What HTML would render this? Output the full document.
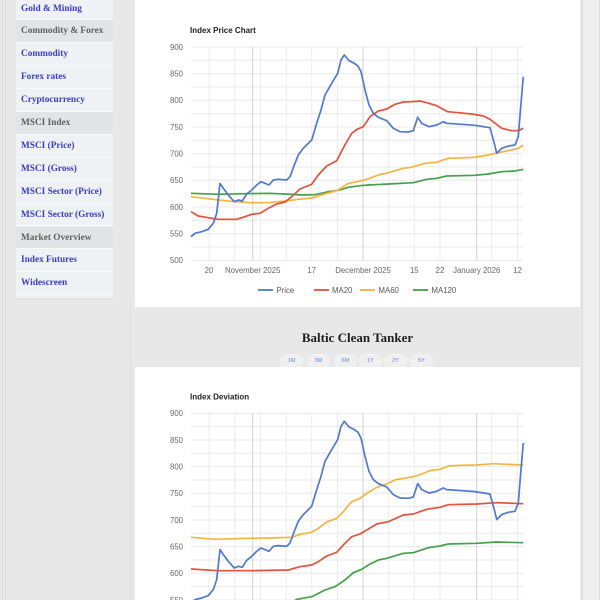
<!DOCTYPE html>
<html><head><meta charset="utf-8">
<style>
html,body{margin:0;padding:0;width:600px;height:600px;overflow:hidden;background:#e8e8e8;}
.abs{position:absolute;}
#side{position:absolute;left:16px;top:0;width:97px;height:298px;background:#eef2f4;border-bottom:2px solid #dde2e4;overflow:hidden;}
.row{position:absolute;left:0;width:97px;height:22.9px;line-height:22.9px;font-family:"Liberation Serif",serif;font-weight:bold;font-size:9.3px;color:#3b3bcc;padding-left:5px;box-sizing:border-box;white-space:nowrap;border-bottom:1px solid #f7f9fa;}
.hd{background:#e1e5e7;color:#616161;}
.pill{position:absolute;top:354px;width:23px;height:14px;border-radius:7px;background:#efefef;border:1px solid #f3f3f3;box-sizing:border-box;font-family:"Liberation Sans",sans-serif;font-size:5.5px;color:#5a8de0;text-align:center;line-height:12px;}
</style></head><body>
<div class="abs" style="left:2px;top:0;width:1px;height:600px;background:#d9d9d9"></div>
<div class="abs" style="left:5px;top:0;width:1px;height:600px;background:#dedede"></div>
<div class="abs" style="left:582px;top:0;width:16px;height:600px;background:#eeeeee;border-left:1px solid #dcdcdc;border-right:1px solid #dcdcdc"></div>
<div class="abs" style="left:130px;top:300px;width:1px;height:300px;background:#dedede"></div>

<div id="side">
<div class="row" style="top:-2.5px">Gold &amp; Mining</div>
<div class="row hd" style="top:20.4px">Commodity &amp; Forex</div>
<div class="row" style="top:43.3px">Commodity</div>
<div class="row" style="top:66.2px">Forex rates</div>
<div class="row" style="top:89.1px">Cryptocurrency</div>
<div class="row hd" style="top:112px">MSCI Index</div>
<div class="row" style="top:134.9px">MSCI (Price)</div>
<div class="row" style="top:157.8px">MSCI (Gross)</div>
<div class="row" style="top:180.7px">MSCI Sector (Price)</div>
<div class="row" style="top:203.6px">MSCI Sector (Gross)</div>
<div class="row hd" style="top:226.5px">Market Overview</div>
<div class="row" style="top:249.4px">Index Futures</div>
<div class="row" style="top:272.3px">Widescreen</div>
</div>

<div class="abs" style="left:135px;top:0;width:445px;height:306.5px;background:#fff"></div>

<div class="abs" style="left:0;top:325px;width:715px;text-align:center;font-family:'Liberation Serif',serif;font-weight:bold;font-size:13px;color:#1e1e1e;line-height:26px">Baltic Clean Tanker</div>
<div class="pill" style="left:280px">1M</div>
<div class="pill" style="left:307px">3M</div>
<div class="pill" style="left:334px">6M</div>
<div class="pill" style="left:359px">1Y</div>
<div class="pill" style="left:384px">2Y</div>
<div class="pill" style="left:410px">5Y</div>

<div class="abs" style="left:135px;top:367px;width:445px;height:233px;background:#fff"></div>

<svg class="abs" style="left:0;top:0" width="600" height="600" viewBox="0 0 600 600" xmlns="http://www.w3.org/2000/svg">
<defs>
<clipPath id="c1"><rect x="190" y="40" width="336" height="224"/></clipPath>
<clipPath id="c2"><rect x="190" y="406" width="336" height="194"/></clipPath>
<g id="grid">
  <g stroke="#e8e8e8" stroke-width="1">
    <line x1="191" x2="523" y1="47" y2="47"/><line x1="191" x2="523" y1="60.3" y2="60.3"/>
    <line x1="191" x2="523" y1="73.7" y2="73.7"/><line x1="191" x2="523" y1="87" y2="87"/>
    <line x1="191" x2="523" y1="100.3" y2="100.3"/><line x1="191" x2="523" y1="113.7" y2="113.7"/>
    <line x1="191" x2="523" y1="127" y2="127"/><line x1="191" x2="523" y1="140.3" y2="140.3"/>
    <line x1="191" x2="523" y1="153.7" y2="153.7"/><line x1="191" x2="523" y1="167" y2="167"/>
    <line x1="191" x2="523" y1="180.3" y2="180.3"/><line x1="191" x2="523" y1="193.7" y2="193.7"/>
    <line x1="191" x2="523" y1="207" y2="207"/><line x1="191" x2="523" y1="220.3" y2="220.3"/>
    <line x1="191" x2="523" y1="233.7" y2="233.7"/><line x1="191" x2="523" y1="247" y2="247"/>
    <line x1="191" x2="523" y1="260.5" y2="260.5"/>
  </g>
  <g stroke="#ececec" stroke-width="1">
    <line x1="209" x2="209" y1="47" y2="260.5"/><line x1="234.7" x2="234.7" y1="47" y2="260.5"/>
    <line x1="260.5" x2="260.5" y1="47" y2="260.5"/><line x1="286.3" x2="286.3" y1="47" y2="260.5"/>
    <line x1="311.7" x2="311.7" y1="47" y2="260.5"/><line x1="337.5" x2="337.5" y1="47" y2="260.5"/>
    <line x1="388.7" x2="388.7" y1="47" y2="260.5"/><line x1="414.3" x2="414.3" y1="47" y2="260.5"/>
    <line x1="440" x2="440" y1="47" y2="260.5"/><line x1="491.5" x2="491.5" y1="47" y2="260.5"/>
    <line x1="517.5" x2="517.5" y1="47" y2="260.5"/>
  </g>
  <g stroke="#d2d2d2" stroke-width="1">
    <line x1="252.7" x2="252.7" y1="47" y2="260.5"/><line x1="363" x2="363" y1="47" y2="260.5"/>
    <line x1="476.7" x2="476.7" y1="47" y2="260.5"/>
  </g>
</g>
<polyline id="price" fill="none" stroke="#5079cf" stroke-width="1.7" stroke-linejoin="round" points="191,236.7 195,233.3 201.7,231.7 208.3,229.3 213.3,223.3 216.7,213.3 220,183.3 223.3,188.3 228.3,195 234.3,201.7 238.3,200 242.3,201 246.7,194 251.7,190 256.7,185 261,181.7 265,183.3 269,185 273.3,180 278.3,179.3 286.7,180 290,176.7 294.3,165 298.3,155 303.3,148.3 311.7,140 316.7,123.3 321,110 325,95 331.7,83.3 337.7,73.3 341,60 344.3,55 349,60.7 353.3,62.7 358,66 361,71.7 365,90 369,105 373.3,113.3 378.3,117.3 386.7,120.7 393.3,128.3 400,131.7 408.3,132 413.3,130.7 417.7,117.3 421.7,123.3 429,126.7 436.7,125 443.3,121.7 446.7,123.3 461.7,124.3 475,125.3 490,127.7 494.3,143.3 496.7,153.3 501.7,148.3 508.3,146 515,145 518.3,136.7 520.7,106.7 523.3,76.7"/>
</defs>

<!-- Chart 1 -->
<text x="190" y="33" font-family="Liberation Sans,sans-serif" font-weight="bold" font-size="8" fill="#222">Index Price Chart</text>
<use href="#grid"/>
<g font-family="Liberation Sans,sans-serif" font-size="7.8" fill="#666" text-anchor="end">
<text x="183" y="49.8">900</text><text x="183" y="76.5">850</text><text x="183" y="103.1">800</text>
<text x="183" y="129.8">750</text><text x="183" y="156.5">700</text><text x="183" y="183.1">650</text>
<text x="183" y="209.8">600</text><text x="183" y="236.5">550</text><text x="183" y="263.2">500</text>
</g>
<g font-family="Liberation Sans,sans-serif" font-size="7.8" fill="#666" text-anchor="middle">
<text x="209" y="273">20</text><text x="252.7" y="273">November 2025</text><text x="311.7" y="273">17</text>
<text x="363" y="273">December 2025</text><text x="414.3" y="273">15</text><text x="440" y="273">22</text>
<text x="476.7" y="273">January 2026</text><text x="517.5" y="273">12</text>
</g>
<g clip-path="url(#c1)" fill="none" stroke-width="1.7" stroke-linejoin="round">
<polyline stroke="#46a04b" points="191,193.3 218.3,194.3 245,193.7 268.3,193.3 285,194 301.7,195 315,194.7 328.3,191.7 340,190 348.3,187.3 360,185.7 368.3,185 388.3,184 413.3,182.7 426.7,179.3 436.7,178.3 446.7,176 475,175.3 488.3,174 501.7,171.7 515,171 523.3,169.3"/>
<polyline stroke="#f5b340" points="191,196.7 205,198.3 218.3,200 235,201.7 251.7,202.7 268.3,202.7 285,201 298.3,199.3 311.7,198 325,194 338.3,190 348.3,183.3 355,182.2 365,180 378.3,175 388.3,172.7 403.3,168.3 411.7,167.3 425,163.3 436.7,162.3 448.3,158.3 475,157.3 488.3,155 498.3,152.7 511.7,150 518.3,148.3 523.3,145"/>
<polyline stroke="#e0533d" points="191,211.7 198.3,216 208.3,217.7 218.3,219.3 228.3,219.3 236.7,219.3 245,216.7 251.7,214.3 260,213.3 268.3,208.3 276.7,204 285,202 291.7,196.7 300,189 311.7,184.3 318.3,175 326.7,166 336.7,160.7 344.3,146 351.7,133.3 357,129.3 363.3,126.7 370,116.7 378.3,111 386.7,109 395,104.3 403.3,102 411.7,101.7 420,101 426.7,102.7 436.7,105.7 447.7,111.7 458.3,112.7 471.7,114 483.3,116 490,119.3 501.7,128.3 511.7,130.7 518.3,130.7 523.3,128.3"/>
<use href="#price"/>
</g>
<!-- Legend -->
<g font-family="Liberation Sans,sans-serif" font-size="7.8" fill="#555" stroke-width="1.8">
<line x1="258" x2="273" y1="290" y2="290" stroke="#5079cf"/><text x="276.5" y="292.8">Price</text>
<line x1="314" x2="329" y1="290" y2="290" stroke="#e0533d"/><text x="332" y="292.8">MA20</text>
<line x1="360" x2="375" y1="290" y2="290" stroke="#f5b340"/><text x="378.5" y="292.8">MA60</text>
<line x1="413" x2="428" y1="290" y2="290" stroke="#46a04b"/><text x="431.5" y="292.8">MA120</text>
</g>

<!-- Chart 2 -->
<text x="190" y="399.5" font-family="Liberation Sans,sans-serif" font-weight="bold" font-size="8" fill="#222">Index Deviation</text>
<g transform="translate(0,366.3)"><use href="#grid"/></g>
<g font-family="Liberation Sans,sans-serif" font-size="7.8" fill="#666" text-anchor="end">
<text x="183" y="416.1">900</text><text x="183" y="442.8">850</text><text x="183" y="469.4">800</text>
<text x="183" y="496.1">750</text><text x="183" y="522.8">700</text><text x="183" y="549.4">650</text>
<text x="183" y="576.1">600</text><text x="183" y="602.8">550</text>
</g>
<g clip-path="url(#c2)" fill="none" stroke-width="1.7" stroke-linejoin="round">
<polyline stroke="#46a04b" points="191,625 230,622 260,617 280,610 296.7,599.3 311.7,596.7 325,590 335,586.7 345,580 353.3,572.7 361.7,569.3 368.3,565 378.3,560 386.7,558.3 403.3,553.3 413.3,552.7 428.3,547.7 440,546 448.3,544 476.7,543.3 496.7,542 523.3,542.7"/>
<polyline stroke="#f5b340" points="191,537.3 215,539.3 235,538.7 268.3,538 291.7,537.3 300,534.3 311.7,532.3 318.3,528.3 326.7,522 336.7,518.3 343.3,511.7 351.7,501.7 360,498.3 366.7,493.3 376.7,487.3 386.7,484 395,480 403.3,478.3 413.3,476.7 421.7,474 430,470.7 440,469.3 448.3,466 460,465.3 476.7,465 493.3,463.7 506.7,464.3 523.3,465"/>
<polyline stroke="#e0533d" points="191,569 218.3,570.7 251.7,570.7 288.3,570 300,566.7 311.7,565 318.3,561.7 326.7,556 336.7,552.3 343.3,545 351.7,536.7 360,534 366.7,530 376.7,524 388.3,521.7 403.3,515 413.3,514 426.7,509.3 440,507.3 448.3,504.7 476.7,504 496.7,502.7 523.3,503.7"/>
<g transform="translate(0,366.3)"><use href="#price"/></g>
</g>
</svg>
</body></html>
